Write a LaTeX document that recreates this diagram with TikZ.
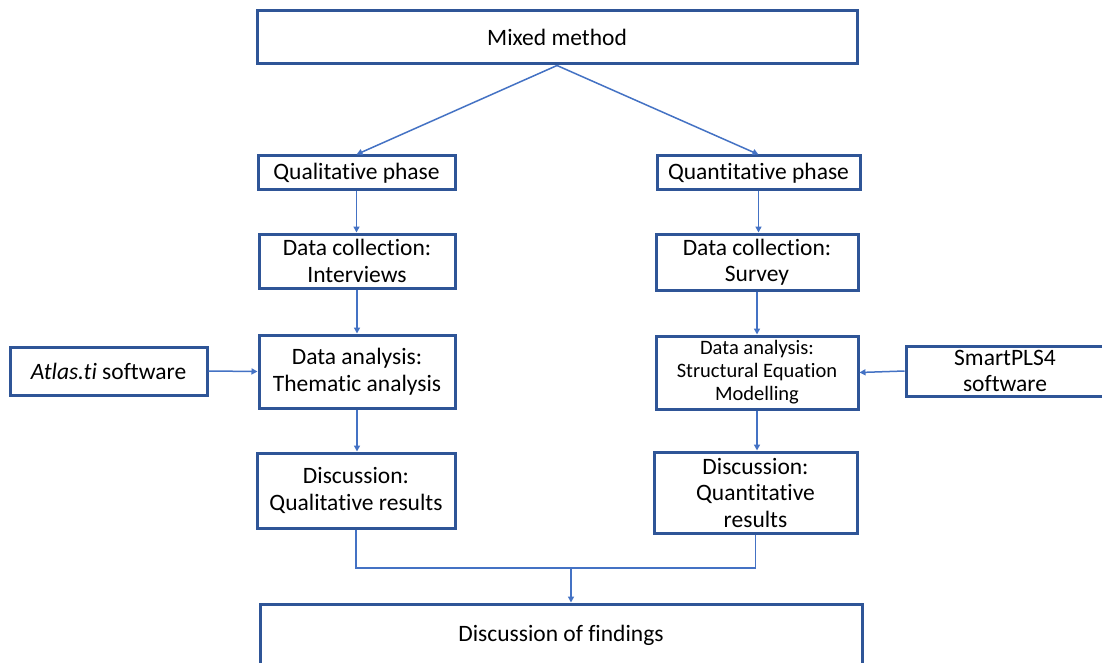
\documentclass[tikz,border=0pt]{standalone}
\usepackage{fontspec}
\setmainfont{Carlito}[Ligatures={NoCommon}]
\usetikzlibrary{arrows.meta}
\definecolor{boxblue}{HTML}{2F5597}
\definecolor{linkblue}{HTML}{4472C4}
\tikzset{
  stagebox/.style={draw=boxblue, line width=3pt, fill=white, inner sep=0pt,
    align=center, font=\fontsize{23.5}{26.5}\selectfont},
  link/.style={draw=linkblue, line width=1.5pt},
  flow/.style={link, -{Triangle[length=6pt,width=6pt]}},
}
\begin{document}
\begin{tikzpicture}[x=1pt,y=-1pt]
\clip (0,0) rectangle (1102,663);
\fill[white] (0,0) rectangle (1102,663);

% top level
\node[stagebox, minimum width=600, minimum height=53] (mixed) at (557,37.5) {Mixed method};

% qualitative branch
\node[stagebox, minimum width=197, minimum height=34] (qual) at (356.5,173) {Qualitative phase};
\node[stagebox, minimum width=196, minimum height=54] (dci) at (357,261) {Data collection:\\Interviews};
\node[stagebox, minimum width=196, minimum height=73] (tha) at (357,371.5) {Data analysis:\\Thematic analysis};
\node[stagebox, minimum width=198, minimum height=75] (dql) at (356,490.5) {Discussion:\\Qualitative results};
\node[stagebox, minimum width=197, minimum height=48] (atlas) at (108.5,371) {\textit{Atlas.ti} software};

% quantitative branch
\node[stagebox, minimum width=203, minimum height=34] (quan) at (758.5,173) {Quantitative phase};
\node[stagebox, minimum width=202, minimum height=56] (dcs) at (757,262) {Data collection:\\Survey};
\node[stagebox, minimum width=202, minimum height=73,
      font=\fontsize{20.5}{23}\selectfont] (sem) at (757,372.5) {Data analysis:\\Structural Equation\\Modelling};
\node[stagebox, minimum width=203, minimum height=81] (dqn) at (755.5,492.5) {Discussion:\\Quantitative\\results};
\node[stagebox, minimum width=198, minimum height=50] (spls) at (1005,371) {SmartPLS4\\software};

% synthesis
\node[stagebox, minimum width=602, minimum height=62] (find) at (561,635) {Discussion of findings};

% connectors
\draw[flow] (mixed.south) -- (qual.north);
\draw[flow] (mixed.south) -- (quan.north);
\draw[flow] (qual.south) -- (qual.south |- dci.north);
\draw[flow] (dci.south) -- (dci.south |- tha.north);
\draw[flow] (tha.south) -- (tha.south |- dql.north);
\draw[flow] (atlas.east) -- (tha.west);
\draw[flow] (quan.south) -- (quan.south |- dcs.north);
\draw[flow] (dcs.south) -- (dcs.south |- sem.north);
\draw[flow] (sem.south) -- (sem.south |- dqn.north);
\draw[flow] (spls.west) -- (sem.east);
\coordinate (join) at (571,568);
\draw[link] (dql.south) |- (join) -| (dqn.south);
\draw[flow] (join) -- (join |- find.north);
\end{tikzpicture}
\end{document}
